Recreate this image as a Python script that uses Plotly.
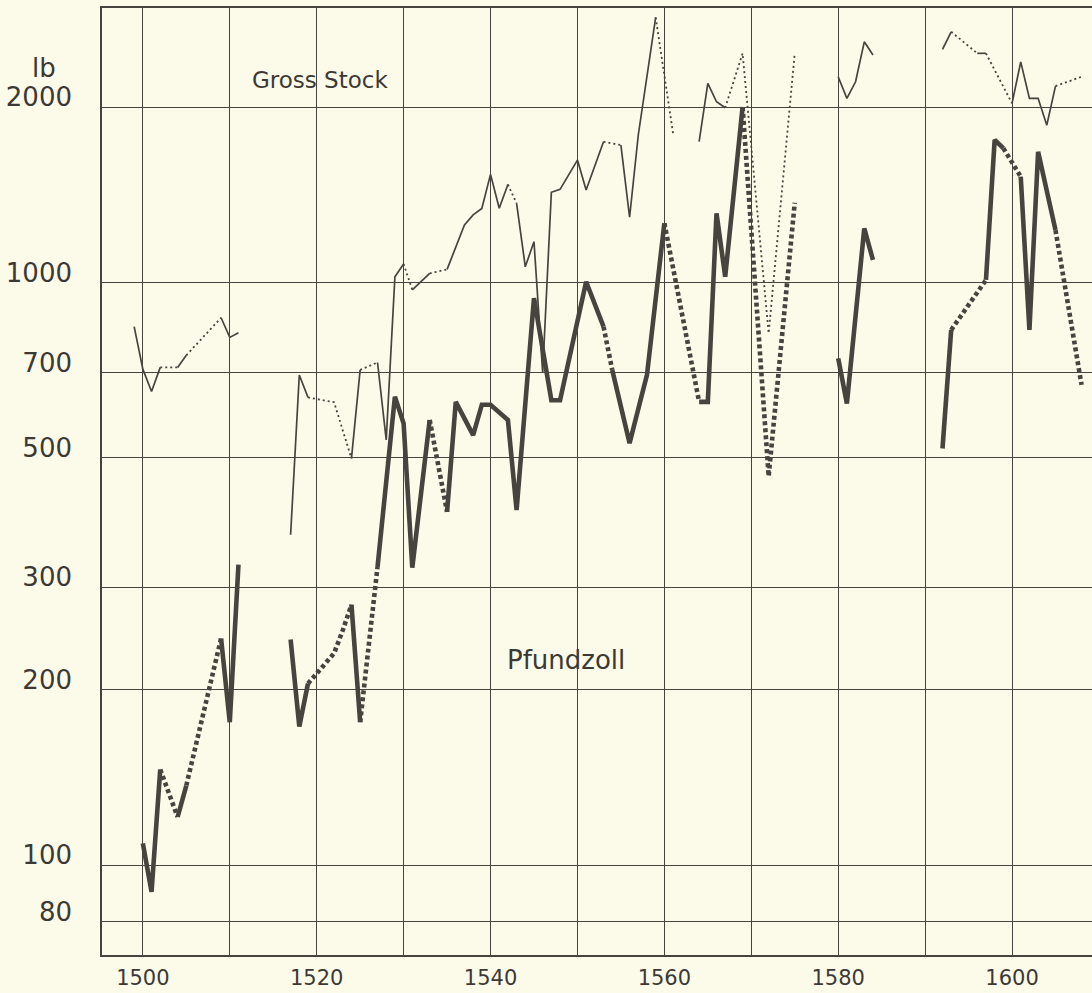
import plotly.graph_objects as go

# ---------------- data ----------------
# link = how a point is joined to the previous one: "" start of a new run, "s" solid, "d" dotted
gross_years = [1499, 1500, 1501, 1502, 1504, 1505, 1509, 1510, 1511,
               1517, 1518, 1519, 1522, 1524, 1525, 1527, 1528, 1529, 1530, 1531, 1533, 1535,
               1537, 1538, 1539, 1540, 1541, 1542, 1543, 1544, 1545, 1546, 1547, 1548, 1550,
               1551, 1553, 1555, 1556, 1557, 1559, 1561,
               1564, 1565, 1566, 1567, 1569, 1572, 1575,
               1580, 1581, 1582, 1583, 1584,
               1592, 1593, 1596, 1597, 1600, 1601, 1602, 1603, 1604, 1605, 1608]
gross_values = [840, 710, 650, 715, 715, 750, 870, 805, 820,
                369, 694, 635, 623, 499, 708, 729, 537, 1023, 1076, 971, 1037, 1053,
                1255, 1306, 1340, 1533, 1341, 1473, 1367, 1064, 1175, 700, 1428, 1445, 1622,
                1441, 1744, 1721, 1294, 1791, 2851, 1803,
                1744, 2196, 2042, 1994, 2473, 818, 2473,
                2254, 2070, 2210, 2588, 2456,
                2512, 2693, 2473, 2473, 2029, 2391, 2070, 2070, 1862, 2173, 2254]
gross_links = ["", "s", "s", "s", "d", "s", "d", "s", "s",
               "", "s", "s", "d", "d", "s", "d", "s", "s", "s", "d", "s", "d",
               "s", "s", "s", "s", "s", "s", "d", "s", "s", "s", "s", "s", "s",
               "s", "s", "d", "s", "s", "s", "d",
               "", "s", "s", "s", "d", "d", "d",
               "", "s", "s", "s", "s",
               "", "s", "d", "s", "d", "s", "s", "s", "s", "s", "d"]

pfund_years = [1500, 1501, 1502, 1504, 1505, 1509, 1510, 1511,
               1517, 1518, 1519, 1522, 1523, 1524, 1525, 1527, 1529, 1530, 1531, 1533, 1535,
               1536, 1538, 1539, 1540, 1542, 1543, 1545, 1547, 1548, 1551, 1553, 1554, 1556,
               1558, 1560, 1564, 1565, 1566, 1567, 1569, 1572, 1575,
               1580, 1581, 1583, 1584,
               1592, 1593, 1597, 1598, 1599, 1601, 1602, 1603, 1605, 1608]
pfund_values = [109, 90, 146, 121, 137, 245, 176, 328,
                244, 173, 205, 231, 253, 280, 176, 325, 637, 573, 324, 581, 404,
                624, 547, 617, 617, 581, 407, 940, 628, 628, 1003, 840, 708, 530,
                694, 1264, 624, 624, 1314, 1023, 2000, 465, 1370,
                741, 620, 1238, 1093,
                519, 829, 1010, 1756, 1700, 1519, 829, 1676, 1230, 667]
pfund_links = ["", "s", "s", "d", "s", "d", "s", "s",
               "", "s", "s", "d", "d", "d", "s", "d", "s", "s", "s", "s", "d",
               "s", "s", "s", "s", "s", "s", "s", "s", "s", "s", "s", "d", "s",
               "s", "s", "d", "s", "s", "s", "s", "d", "d",
               "", "s", "s", "s",
               "", "s", "d", "s", "s", "d", "s", "s", "s", "d"]

x_ticks = [1500, 1520, 1540, 1560, 1580, 1600]
x_minor = [1510, 1530, 1550, 1570, 1590]
y_ticks = [80, 100, 200, 300, 500, 700, 1000, 2000]

# ---------------- styling ----------------
INK = "#47443f"
TEXT = "#3c3935"
PAPER = "#fcfbea"
FONT = "DejaVu Sans"


def split(years, values, links, style):
    xs, ys = [], []
    for i in range(1, len(years)):
        if links[i] != style:
            continue
        if xs and xs[-1] == years[i - 1]:
            xs.append(years[i]); ys.append(values[i])
        else:
            if xs:
                xs.append(None); ys.append(None)
            xs += [years[i - 1], years[i]]
            ys += [values[i - 1], values[i]]
    return xs, ys


fig = go.Figure()

for yrs, vals, lks, w_s, w_d, dash in [
    (gross_years, gross_values, gross_links, 1.7, 1.8, "2px,3px"),
    (pfund_years, pfund_values, pfund_links, 4.6, 4.6, "4px,3px"),
]:
    xs, ys = split(yrs, vals, lks, "s")
    fig.add_trace(go.Scatter(x=xs, y=ys, mode="lines", connectgaps=False,
                             line=dict(color=INK, width=w_s), hoverinfo="skip"))
    xd, yd = split(yrs, vals, lks, "d")
    fig.add_trace(go.Scatter(x=xd, y=yd, mode="lines", connectgaps=False,
                             line=dict(color=INK, width=w_d, dash=dash), hoverinfo="skip"))

fig.add_annotation(x=1520.4, y=3.347, xref="x", yref="y", text="Gross Stock",
                   showarrow=False, font=dict(family=FONT, size=23, color=TEXT))
fig.add_annotation(x=1548.7, y=2.3525, xref="x", yref="y", text="Pfundzoll",
                   showarrow=False, font=dict(family=FONT, size=26, color=TEXT))
fig.add_annotation(x=-0.073, y=3.368, xref="paper", yref="y", text="lb",
                   showarrow=False, font=dict(family=FONT, size=26, color=TEXT))

fig.update_layout(
    width=1092, height=993,
    margin=dict(l=102, r=0, t=8, b=38),
    paper_bgcolor=PAPER, plot_bgcolor=PAPER,
    showlegend=False,
    xaxis=dict(range=[1495.3, 1609.2], tickvals=x_ticks, ticktext=[str(v) for v in x_ticks],
               showgrid=True, gridcolor=INK, gridwidth=1.1,
               minor=dict(tickvals=x_minor, showgrid=True, gridcolor=INK, gridwidth=1.1),
               showline=True, linecolor=INK, linewidth=1.6, mirror=True,
               ticks="", ticklabelstandoff=3, zeroline=False, automargin=False,
               tickfont=dict(family=FONT, size=21, color=TEXT)),
    yaxis=dict(type="log", range=[1.846, 3.471], tickvals=y_ticks,
               ticktext=[str(v) for v in y_ticks],
               showgrid=True, gridcolor=INK, gridwidth=1.1,
               showline=True, linecolor=INK, linewidth=1.6,
               ticks="", ticklabelstandoff=23, ticklabelshift=-10, zeroline=False,
               automargin=False,
               tickfont=dict(family=FONT, size=26, color=TEXT)),
)

fig.write_html(
    "out.html",
    config={"displayModeBar": False},
    post_script="document.body.style.margin='0';document.body.style.background='%s';" % PAPER,
)
